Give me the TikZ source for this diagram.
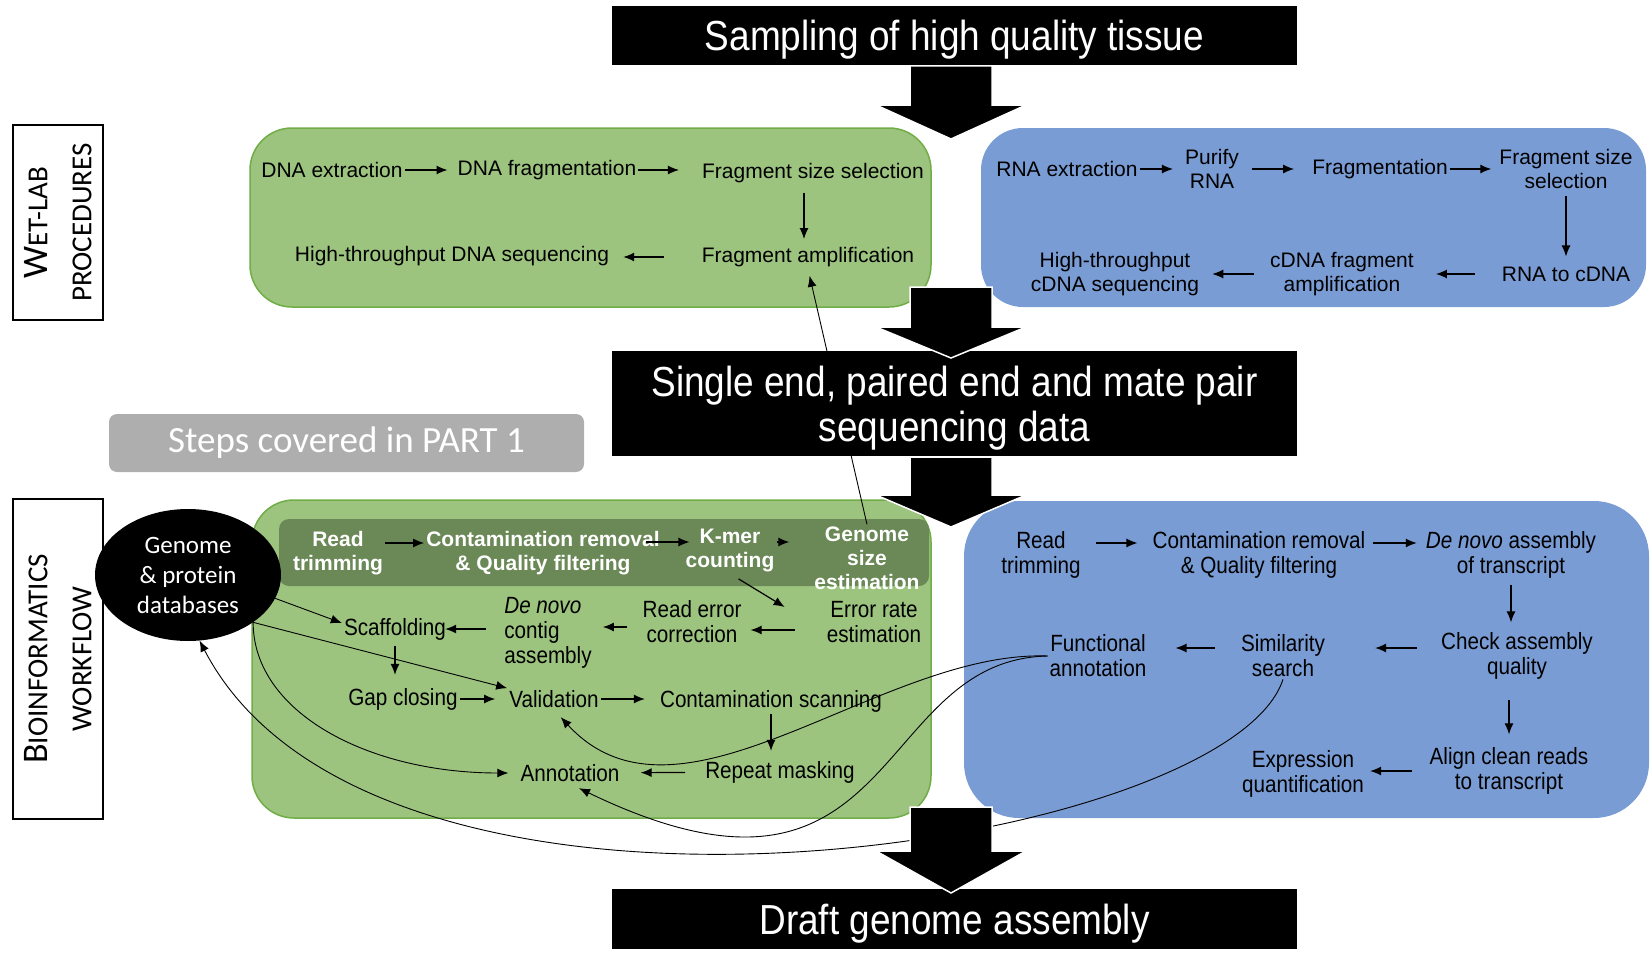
\documentclass[tikz,border=0pt]{standalone}
\usepackage{fontspec}
\setmainfont{Liberation Sans}
\newfontfamily\narrowfont{Liberation Sans}[FakeStretch=0.88]
\newfontfamily\calfont{Carlito}
\usetikzlibrary{arrows.meta,shapes.geometric}
\definecolor{boxgreen}{HTML}{9DC47F}
\definecolor{edgegreen}{HTML}{70AD47}
\definecolor{bandgreen}{HTML}{6B8857}
\definecolor{boxblue}{HTML}{7A9CD4}
\definecolor{partgray}{HTML}{AEAEAE}
\newcommand{\bigarrow}[3]{%
  \filldraw[fill=black,draw=white,line width=1.5pt] (\ax-\aw,#1) -- (\ax+\aw,#1) -- (\ax+\aw,#2) -- (\ax+\ah,#2) -- (\ax,#3) -- (\ax-\ah,#2) -- (\ax-\aw,#2) -- cycle;}

\begin{document}
\begin{tikzpicture}[x=1pt,y=-1pt,
  wet/.style={font=\fontsize{21}{24}\selectfont,align=center,inner sep=2pt},
  bio/.style={font=\narrowfont\fontsize{23.5}{25}\selectfont,align=center,inner sep=2pt},
  bandtxt/.style={font=\bfseries\fontsize{21}{24}\selectfont,text=white,align=center,inner sep=2pt},
  titlebox/.style={fill=black,text=white,font=\narrowfont\fontsize{42}{45}\selectfont,align=center,minimum width=685pt,inner sep=0pt,text depth=0pt},
  sidelabel/.style={draw=black,line width=2pt,fill=white,rotate=90,align=center,minimum height=90pt,inner sep=0pt,font=\calfont\fontsize{29}{44}\selectfont},
  flow/.style={-{Latex[length=11pt,width=9pt]},line width=1.2pt,shorten >=8pt},
  link/.style={-{Latex[length=11pt,width=9pt]},line width=0.9pt},
]
\pgfmathsetmacro{\ax}{951}
\pgfmathsetmacro{\aw}{41}
\pgfmathsetmacro{\ah}{75}
\useasboundingbox (0,0) rectangle (1652,966);
%
% panels
\filldraw[fill=boxgreen,draw=edgegreen,line width=1.5pt,rounded corners=42pt] (250,128) rectangle (931,307);
\fill[boxblue,rounded corners=42pt] (981,128) rectangle (1646,307);
\filldraw[fill=boxgreen,draw=edgegreen,line width=1.5pt,rounded corners=42pt] (252,500) rectangle (931,818);
\fill[bandgreen,rounded corners=10pt] (279,519) rectangle (929,586);
\fill[boxblue,rounded corners=55pt] (964,501) rectangle (1649,818);
%
\node[sidelabel,minimum width=195pt] (wetlab) at (58,222.5) {{\fontsize{36}{44}\selectfont W}ET-LAB\\PROCEDURES};
\node[sidelabel,minimum width=320pt] (bioinf) at (58,659) {{\fontsize{36}{44}\selectfont B}IOINFORMATICS\\WORKFLOW};
\node[fill=partgray,rounded corners=8pt,minimum width=475pt,minimum height=58pt,text=white,font=\calfont\fontsize{37}{40}\selectfont] (part) at (346.5,443) {Steps covered in PART 1};
\node[ellipse,fill=black,text=white,minimum width=186pt,minimum height=132pt,inner sep=0pt,align=center,font=\calfont\fontsize{25}{30}\selectfont] (db) at (188,575) {Genome\\\& protein\\databases};
%
% wet-lab, DNA
\node[wet] (dnaext) at (332,170) {DNA extraction};
\node[wet] (dnafrag) at (547,170) {DNA fragmentation};
\node[wet] (fragsel) at (813,173) {Fragment size selection};
\node[wet] (fragamp) at (808,257) {Fragment amplification};
\node[wet] (dnaseq) at (452,256) {High-throughput DNA sequencing};
\draw[flow] (dnaext) -- (dnafrag);
\draw[flow,shorten >=21pt] (dnafrag.east) -- (dnafrag.east -| fragsel.west);
\draw[flow,shorten <=8pt,shorten >=6pt] ([xshift=-9pt]fragsel.south) -- ([xshift=-9pt]fragsel.south |- fragamp.north);
\draw[flow,shorten <=36pt,shorten >=12pt] (fragamp.west) -- (fragamp.west -| dnaseq.east);
%
% wet-lab, RNA
\node[wet] (rnaext) at (1067,169) {RNA extraction};
\node[wet] (purify) at (1212,169) {Purify\\RNA};
\node[wet] (rnafrag) at (1380,169) {Fragmentation};
\node[wet] (rnasel) at (1566,169) {Fragment size\\selection};
\node[wet] (rnacdna) at (1566,274) {RNA to cDNA};
\node[wet] (cdnaamp) at (1342,274) {cDNA fragment\\amplification};
\node[wet] (cdnaseq) at (1115,274) {High-throughput\\cDNA sequencing};
\draw[flow,shorten >=10pt] (rnaext) -- (purify);
\draw[flow,shorten <=11pt,shorten >=16pt] (purify) -- (rnafrag);
\draw[flow,shorten >=6pt] (rnafrag) -- (rnasel);
\draw[flow,shorten <=5pt] (rnasel) -- (rnacdna);
\draw[flow,shorten <=25pt,shorten >=20pt] (rnacdna) -- (cdnaamp);
\draw[flow,shorten <=14pt,shorten >=11pt] (cdnaamp) -- (cdnaseq);
%
% bioinformatics, genome
\node[bandtxt] (btrim) at (338,553) {Read\\trimming};
\node[bandtxt] (bcont) at (543,553) {Contamination removal\\\& Quality filtering};
\node[bandtxt] (kmer) at (730,550) {K-mer\\counting};
\node[bandtxt] (gsize) at (867,558) {Genome\\size\\estimation};
\draw[flow,shorten >=0pt] ([yshift=10pt]btrim.east) -- ([yshift=10pt]btrim.east -| bcont.west);
\draw[flow,shorten <=-16pt,shorten >=-6pt] ([yshift=11pt]bcont.east) -- ([yshift=11pt]bcont.east -| kmer.west);
\draw[flow,shorten >=23pt] ([yshift=8pt]kmer.east) -- ([yshift=8pt]kmer.east -| gsize.west);
%
\node[bio] (errrate) at (874,622) {Error rate\\estimation};
\node[bio] (readerr) at (692,622) {Read error\\correction};
\node[bio,align=left] (denovo) at (548,633) {\textit{De novo}\\contig\\assembly};
\node[bio] (scaf) at (395,629) {Scaffolding};
\node[bio] (gap) at (403,699) {Gap closing};
\node[bio] (valid) at (554,699) {Validation};
\node[bio] (contscan) at (771,701) {Contamination scanning};
\node[bio] (repeat) at (780,772) {Repeat masking};
\node[bio] (annot) at (570,773) {Annotation};
\draw[flow,shorten <=10pt,shorten >=0pt] (kmer.south) -- ([xshift=-40pt,yshift=15pt]errrate.west);
\draw[flow,shorten <=30pt,shorten >=7pt] ([yshift=-8pt]errrate.west) -- ([yshift=-8pt]errrate.west -| readerr.east);
\draw[flow,shorten <=13pt,shorten >=9pt] ([yshift=-5pt]readerr.west) -- ([yshift=-5pt]readerr.west -| denovo.east);
\draw[flow,shorten <=16pt,shorten >=-3pt] (denovo.west |- scaf.east) -- (scaf.east);
\draw[flow,shorten <=4pt,shorten >=11pt] (scaf.south) -- (scaf.south |- gap.north);
\draw[flow,shorten <=0pt,shorten >=12pt] (gap) -- (valid);
\draw[flow,shorten >=13pt] (valid.east) -- (valid.east -| contscan.west);
\draw[flow] (contscan.south) -- (contscan.south |- repeat.north);
\draw[flow,shorten <=18pt,shorten >=19pt] (repeat) -- (annot);
%
% bioinformatics, transcriptome
\node[bio] (rtrim) at (1041,555) {Read\\trimming};
\node[bio] (rcont) at (1259,555) {Contamination removal\\\& Quality filtering};
\node[bio] (rdenovo) at (1511,555) {\textit{De novo} assembly\\of transcript};
\node[bio] (check) at (1517,656) {Check assembly\\quality};
\node[bio] (sim) at (1283,656) {Similarity\\search};
\node[bio] (func) at (1098,656) {Functional\\annotation};
\node[bio] (align) at (1509,771) {Align clean reads\\to transcript};
\node[bio] (expr) at (1303,774) {Expression\\quantification};
\draw[flow,shorten <=13pt,shorten >=13pt] ([yshift=12pt]rtrim.east) -- ([yshift=12pt]rtrim.east -| rcont.west);
\draw[flow,shorten <=5pt,shorten >=7pt] ([yshift=12pt]rcont.east) -- ([yshift=12pt]rcont.east -| rdenovo.west);
\draw[flow,shorten <=4pt] (rdenovo.south) -- (rdenovo.south |- check.north);
\draw[flow,shorten <=22pt,shorten >=48pt] ([yshift=8pt]check.west) -- ([yshift=8pt]check.west -| sim.east);
\draw[flow,shorten <=24pt,shorten >=27pt] ([yshift=8pt]sim.west) -- ([yshift=8pt]sim.west -| func.east);
\draw[flow,shorten <=18pt,shorten >=11pt] (align.north |- check.south) -- (align.north);
\draw[flow,shorten <=15pt,shorten >=4pt] (align.west) -- (align.west -| expr.east);
%
% cross links
\draw[link,shorten >=7pt] (gsize.north) -- (fragamp.south);
\draw[link] (db.-15) -- ([yshift=6pt]scaf.west);
\draw[link] (db.-36) -- (valid.north west);
\draw[link,shorten >=10pt] (db.-36) .. controls +(0,90) and +(-150,0) .. (annot.west);
\draw[link,shorten >=10pt] (func.west) .. controls +(-168,-6) and +(126,137) .. (valid.south);
\draw[link,shorten >=10pt] (func.west) .. controls +(-178,4) and +(331,160) .. (annot.south);
\draw[link] (sim.south) .. controls +(-55,170) and +(177,340) .. (db.-80);
%
% stages
\node[titlebox,minimum height=59pt] (sampling) at (954.5,35.5) {Sampling of high quality tissue};
\node[titlebox,minimum height=105pt] (seqdata) at (954.5,403.5) {Single end, paired end and mate pair\\sequencing data};
\node[titlebox,minimum height=60pt] (draft) at (954.5,919) {Draft genome assembly};
%
\bigarrow{66}{105}{139}
\bigarrow{287}{327}{358}
\bigarrow{457}{495}{527}
\bigarrow{807}{851}{893}
\end{tikzpicture}
\end{document}
